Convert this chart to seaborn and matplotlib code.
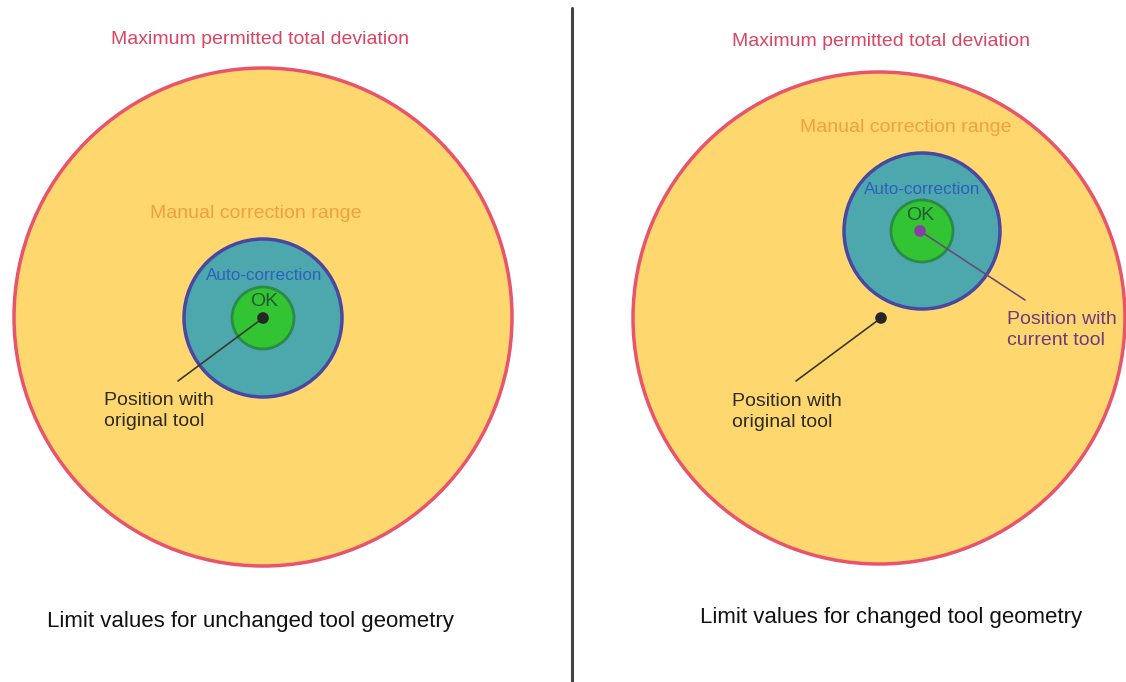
import numpy as np
import pandas as pd
import matplotlib.pyplot as plt
from matplotlib.patches import Circle
import seaborn as sns

# Diagram content (pixel space of the original picture)
panel_titles = ["Limit values for unchanged tool geometry", "Limit values for changed tool geometry"]
zone_names = ["Maximum permitted total deviation", "Manual correction range", "Auto-correction", "OK"]

# zone circles per panel: centre x, centre y, radius
outer_x = [263, 879]
outer_y = [317, 318]
outer_r = [249, 246]
auto_x = [263, 922]
auto_y = [318, 231]
auto_r = [79, 78]
ok_r = [31, 31]

# tool positions
orig_x = [263, 881]
orig_y = [318, 318]
curr_x = [920]
curr_y = [231]

sns.set_theme(style="white")
plt.rcParams["font.family"] = ["Liberation Sans", "DejaVu Sans"]

fig = plt.figure(figsize=(11.26, 6.82), dpi=100)
ax = fig.add_axes([0, 0, 1, 1])

yellow = "#fed86f"
red = "#e9536b"
teal = "#4ca8ac"
blue = "#4a47a3"
green = "#33c433"
dgreen = "#2a8a48"

for i in range(2):
    ax.add_patch(Circle((outer_x[i], outer_y[i]), outer_r[i], facecolor=yellow, edgecolor=red, lw=2.5, zorder=1))
    ax.add_patch(Circle((auto_x[i], auto_y[i]), auto_r[i], facecolor=teal, edgecolor=blue, lw=2.5, zorder=2))
    ax.add_patch(Circle((auto_x[i], auto_y[i]), ok_r[i], facecolor=green, edgecolor=dgreen, lw=2, zorder=3))

# leader lines
ax.plot([orig_x[0], 178], [orig_y[0], 381], color="#3a3a2a", lw=1.2, zorder=4)
ax.plot([orig_x[1], 796], [orig_y[1], 381], color="#3a3a2a", lw=1.2, zorder=4)
ax.plot([curr_x[0], 1025], [curr_y[0], 300], color="#6b4a78", lw=1.2, zorder=4)

dots = pd.DataFrame({"x": orig_x + curr_x, "y": orig_y + curr_y, "kind": ["orig", "orig", "curr"]})
sns.scatterplot(data=dots, x="x", y="y", hue="kind", palette={"orig": "#262626", "curr": "#8a3fa8"},
                s=70, edgecolor="none", legend=False, ax=ax, zorder=5)
ax.set_xlim(0, 1126)
ax.set_ylim(682, 0)
ax.set_axis_off()

# zone labels
ax.text(260, 39, zone_names[0], color="#dc4462", fontsize=14, ha="center", va="center", zorder=6)
ax.text(881, 41, zone_names[0], color="#dc4462", fontsize=14, ha="center", va="center", zorder=6)
ax.text(256, 213, zone_names[1], color="#f0a03c", fontsize=14, ha="center", va="center", zorder=6)
ax.text(906, 127, zone_names[1], color="#f0a03c", fontsize=14, ha="center", va="center", zorder=6)
ax.text(264, 276, zone_names[2], color="#2f5fbf", fontsize=12.3, ha="center", va="center", zorder=6)
ax.text(922, 189, zone_names[2], color="#2f5fbf", fontsize=12.3, ha="center", va="center", zorder=6)
ax.text(264, 301, zone_names[3], color="#1f5a35", fontsize=14, ha="center", va="center", zorder=6)
ax.text(920, 215, zone_names[3], color="#1f5a35", fontsize=14, ha="center", va="center", zorder=6)

# position labels
ax.text(104, 411, "Position with\noriginal tool", color="#2e2a1e", fontsize=14, ha="left", va="center",
        linespacing=1.3, zorder=6)
ax.text(732, 412, "Position with\noriginal tool", color="#2e2a1e", fontsize=14, ha="left", va="center",
        linespacing=1.3, zorder=6)
ax.text(1007, 330, "Position with\ncurrent tool", color="#6e3a80", fontsize=14, ha="left", va="center",
        linespacing=1.3, zorder=6)

# panel titles
ax.text(250, 621, panel_titles[0], color="#111111", fontsize=16, ha="center", va="center")
ax.text(891, 618, panel_titles[1], color="#111111", fontsize=16, ha="center", va="center")

# divider
ax.plot([572, 572], [8, 682], color="#444444", lw=2.2)

plt.savefig("out.png", dpi=100)
